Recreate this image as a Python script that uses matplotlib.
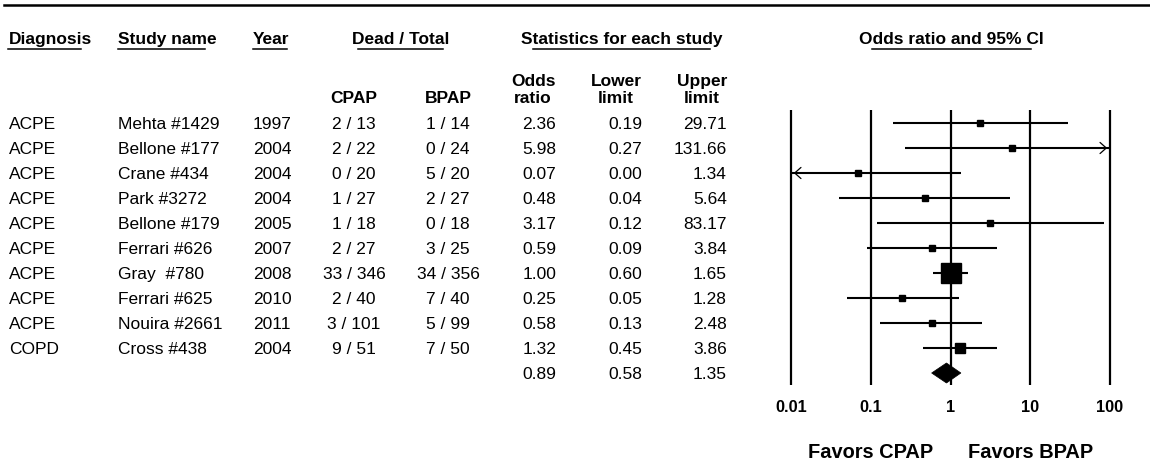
import numpy as np
import matplotlib
matplotlib.use("Agg")
import matplotlib.pyplot as plt
from matplotlib.patches import Polygon

plt.rcParams['font.family'] = ['Liberation Sans', 'DejaVu Sans']

# data
diagnosis = ["ACPE", "ACPE", "ACPE", "ACPE", "ACPE", "ACPE", "ACPE", "ACPE", "ACPE", "COPD"]
study = ["Mehta #1429", "Bellone #177", "Crane #434", "Park #3272", "Bellone #179",
         "Ferrari #626", "Gray  #780", "Ferrari #625", "Nouira #2661", "Cross #438"]
year = [1997, 2004, 2004, 2004, 2005, 2007, 2008, 2010, 2011, 2004]
cpap_dead = [2, 2, 0, 1, 1, 2, 33, 2, 3, 9]
cpap_total = [13, 22, 20, 27, 18, 27, 346, 40, 101, 51]
bpap_dead = [1, 0, 5, 2, 0, 3, 34, 7, 5, 7]
bpap_total = [14, 24, 20, 27, 18, 25, 356, 40, 99, 50]
odds = [2.36, 5.98, 0.07, 0.48, 3.17, 0.59, 1.00, 0.25, 0.58, 1.32]
lower = [0.19, 0.27, 0.00, 0.04, 0.12, 0.09, 0.60, 0.05, 0.13, 0.45]
upper = [29.71, 131.66, 1.34, 5.64, 83.17, 3.84, 1.65, 1.28, 2.48, 3.86]
pooled = [0.89, 0.58, 1.35]
ticks = [0.01, 0.1, 1, 10, 100]
tick_labels = ["0.01", "0.1", "1", "10", "100"]

fig = plt.figure(figsize=(11.5, 4.7), dpi=100)
ax0 = fig.add_axes([0, 0, 1, 1])
ax0.set_xlim(0, 1150)
ax0.set_ylim(470, 0)
ax0.axis('off')

fs = 12.5
ax0.plot([4, 1150], [4.5, 4.5], color='black', lw=1.8)

# headers
hy = 44
heads = [("Diagnosis", 9, 'left', (8, 81)),
         ("Study name", 118, 'left', (118, 205)),
         ("Year", 253, 'left', (253, 287)),
         ("Dead / Total", 401, 'center', (358, 443)),
         ("Statistics for each study", 622, 'center', (533, 710)),
         ("Odds ratio and 95% CI", 951, 'center', (872, 1031))]
for txt, x, ha, ul in heads:
    ax0.text(x, hy, txt, ha=ha, va='baseline', fontsize=fs, fontweight='bold')
    ax0.plot(ul, [hy + 4.5, hy + 4.5], color='black', lw=1.1)

for txt, x in [("CPAP", 354), ("BPAP", 448), ("ratio", 533), ("limit", 616), ("limit", 702)]:
    ax0.text(x, 103, txt, ha='center', va='baseline', fontsize=fs, fontweight='bold')
for txt, x in [("Odds", 533), ("Lower", 616), ("Upper", 702)]:
    ax0.text(x, 86, txt, ha='center', va='baseline', fontsize=fs, fontweight='bold')

# rows
for i in range(len(study)):
    yb = 129 + 25 * i
    ax0.text(9, yb, diagnosis[i], ha='left', va='baseline', fontsize=fs)
    ax0.text(118, yb, study[i], ha='left', va='baseline', fontsize=fs)
    ax0.text(253, yb, str(year[i]), ha='left', va='baseline', fontsize=fs)
    ax0.text(354, yb, f"{cpap_dead[i]} / {cpap_total[i]}", ha='center', va='baseline', fontsize=fs)
    ax0.text(448, yb, f"{bpap_dead[i]} / {bpap_total[i]}", ha='center', va='baseline', fontsize=fs)
    ax0.text(556, yb, f"{odds[i]:.2f}", ha='right', va='baseline', fontsize=fs)
    ax0.text(642, yb, f"{lower[i]:.2f}", ha='right', va='baseline', fontsize=fs)
    ax0.text(727, yb, f"{upper[i]:.2f}", ha='right', va='baseline', fontsize=fs)
yb = 129 + 25 * len(study)
for v, x in zip(pooled, [556, 642, 727]):
    ax0.text(x, yb, f"{v:.2f}", ha='right', va='baseline', fontsize=fs)

# forest plot
ax = fig.add_axes([791 / 1150, 0, 319 / 1150, 1])
ax.set_xscale('log')
ax.set_xlim(0.01, 100)
ax.set_ylim(470, 0)
ax.axis('off')

ax.vlines(ticks, 110, 385, color='black', lw=1.6, clip_on=False)
for t, lab in zip(ticks, tick_labels):
    ax.text(t, 407, lab, ha='center', va='center', fontsize=11.7, fontweight='bold')

# weights from counts (0.5 correction for zero cells) -> square size
w = []
for a, n1, c, n2 in zip(cpap_dead, cpap_total, bpap_dead, bpap_total):
    cells = np.array([a, n1 - a, c, n2 - c], dtype=float)
    if (cells == 0).any():
        cells += 0.5
    w.append(1 / np.sum(1 / cells))
w = np.array(w)
sides = np.maximum(6, 20 * np.sqrt(w / w.max()))

for i in range(len(study)):
    y = 123 + 25 * i
    lo = max(lower[i], 0.01)
    hi = min(upper[i], 100)
    ax.plot([lo, hi], [y, y], color='black', lw=1.5, clip_on=False, solid_capstyle='butt')
    if upper[i] > 100:
        ax.annotate('', xy=(100, y), xytext=(50, y), annotation_clip=False,
                    arrowprops=dict(arrowstyle='->,head_length=0.45,head_width=0.4', lw=0.9, color='black'))
    if lower[i] < 0.01:
        ax.annotate('', xy=(0.01, y), xytext=(0.02, y), annotation_clip=False,
                    arrowprops=dict(arrowstyle='->,head_length=0.45,head_width=0.4', lw=0.9, color='black'))
    ax.plot(odds[i], y, marker='s', markersize=sides[i] * 0.72, color='black',
            linestyle='', clip_on=False)

ys = 123 + 25 * len(study)
diamond = Polygon([(pooled[1], ys), (pooled[0], ys - 10), (pooled[2], ys), (pooled[0], ys + 10)],
                  closed=True, facecolor='black', edgecolor='black', lw=0.5)
ax.add_patch(diamond)

ax.text(0.1, 452, "Favors CPAP", ha='center', va='center', fontsize=14.4, fontweight='bold')
ax.text(10, 452, "Favors BPAP", ha='center', va='center', fontsize=14.4, fontweight='bold')

fig.savefig("out.png", dpi=100)
